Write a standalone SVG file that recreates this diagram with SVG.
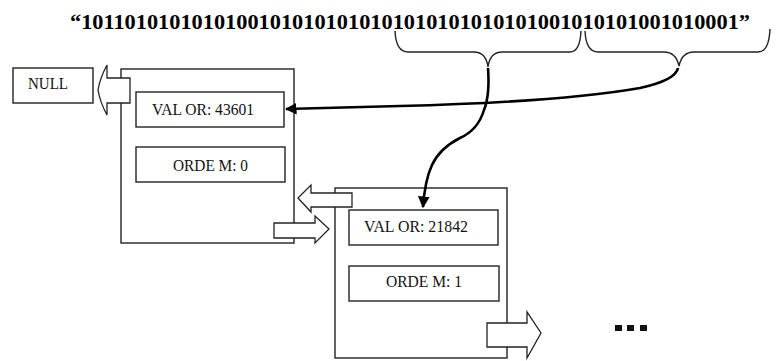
<svg xmlns="http://www.w3.org/2000/svg" width="778" height="361" viewBox="0 0 778 361">
<style>
.box{fill:#fff;stroke:#222;stroke-width:1.4}
.lbl{font-family:"Liberation Serif","Times New Roman",serif;font-size:16px;fill:#111}
.arr{fill:#fff;stroke:#222;stroke-width:1.3;stroke-linejoin:miter}
.brace{fill:none;stroke:#222;stroke-width:1.4}
.conn{fill:none;stroke:#000;stroke-width:2.6}
</style>
<defs>
<marker id="ah" viewBox="0 0 10 10" refX="9" refY="5" markerWidth="4.5" markerHeight="4.5" orient="auto" markerUnits="strokeWidth">
<path d="M0,0 L10,5 L0,10 Z" fill="#000"/>
</marker>
</defs>
<rect width="778" height="361" fill="#fff"/>
<text x="70" y="29" font-family="'Liberation Serif','Times New Roman',serif" font-weight="bold" font-size="21" fill="#000" textLength="680" lengthAdjust="spacingAndGlyphs">“10110101010101001010101010101010101010101001010101001010001”</text>
<g id="braces">
<path class="brace" d="M395,31 Q396,52 408,52 L474,52 Q486,52 488,67 Q490,52 502,52 L570,52 Q580,52 581,31"/>
<path class="brace" d="M585,31 Q586,52 598,52 L664,52 Q676,52 679,66 Q682,52 694,52 L758,52 Q769,52 770,29"/>
</g>
<g id="null">
<rect class="box" x="13" y="68" width="80" height="35"/>
<text class="lbl" x="28" y="89" textLength="40" lengthAdjust="spacingAndGlyphs">NULL</text>
</g>
<g id="node1">
<rect class="box" x="121" y="69" width="173" height="174"/>
<rect class="box" x="136" y="92" width="148" height="35"/>
<text class="lbl" x="152" y="115" textLength="102" lengthAdjust="spacingAndGlyphs">VAL OR: 43601</text>
<rect class="box" x="136" y="147" width="149" height="35"/>
<text class="lbl" x="173" y="171" textLength="75" lengthAdjust="spacingAndGlyphs">ORDE M: 0</text>
</g>
<g id="node2">
<rect class="box" x="335" y="188" width="172" height="170"/>
<rect class="box" x="349" y="210" width="149" height="35"/>
<text class="lbl" x="364" y="232" textLength="104" lengthAdjust="spacingAndGlyphs">VAL OR: 21842</text>
<rect class="box" x="349" y="266" width="150" height="35"/>
<text class="lbl" x="386" y="287" textLength="76" lengthAdjust="spacingAndGlyphs">ORDE M: 1</text>
</g>
<g id="ellipsis" fill="#111">
<rect x="615" y="325" width="7" height="6"/>
<rect x="627" y="325" width="7" height="6"/>
<rect x="640" y="325" width="7" height="6"/>
</g>
<g id="connectors">
<path class="arr" d="M130,78 L107,78 L107,65 Q100,78 98,90 Q100,102 107,115 L107,103 L130,103 Z"/>
<path class="arr" d="M352,193 L311,193 L311,185 L298,198 L311,212 L311,207 L352,207 Z"/>
<path class="arr" d="M274,223 L315,223 L315,216 L329,229 L315,243 L315,238 L274,238 Z"/>
<path class="arr" d="M487,323 L527,323 L527,312 L541,333 L527,358 L527,347 L487,347 Z"/>
<path class="conn" marker-end="url(#ah)" d="M678,68 Q676,80 640,88 Q560,102 400,106 L286,109"/>
<path class="conn" marker-end="url(#ah)" d="M488,68 Q490,95 484,110 Q478,130 460,138 Q440,148 432,165 Q425,180 423,207"/>
</g>
</svg>
